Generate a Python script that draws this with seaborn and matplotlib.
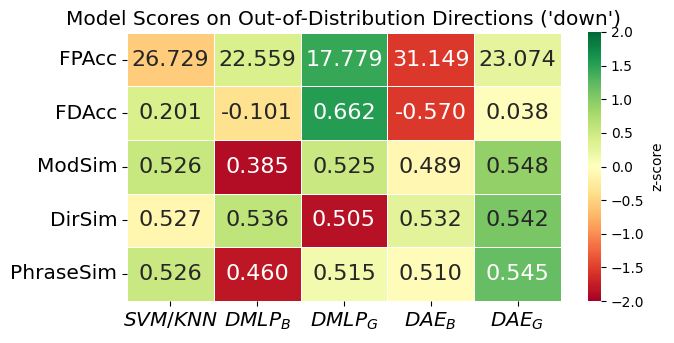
import numpy as np
import pandas as pd
import matplotlib
matplotlib.use("Agg")
import matplotlib.pyplot as plt
import seaborn as sns

# Metrics (rows) and models (columns)
metrics = ["FPAcc", "FDAcc", "ModSim", "DirSim", "PhraseSim"]
models = ["$SVM/KNN$", "$DMLP_B$", "$DMLP_G$", "$DAE_B$", "$DAE_G$"]

fpacc = [26.729, 22.559, 17.779, 31.149, 23.074]
fdacc = [0.201, -0.101, 0.662, -0.570, 0.038]
modsim = [0.526, 0.385, 0.525, 0.489, 0.548]
dirsim = [0.527, 0.536, 0.505, 0.532, 0.542]
phrasesim = [0.526, 0.460, 0.515, 0.510, 0.545]

# FPAcc is an error-like score: lower is better
higher_is_better = [False, True, True, True, True]

scores = pd.DataFrame([fpacc, fdacc, modsim, dirsim, phrasesim],
                      index=metrics, columns=models)

# Row-wise z-scores, sign flipped where lower is better
z = scores.sub(scores.mean(axis=1), axis=0).div(scores.std(axis=1, ddof=0), axis=0)
sign = np.where(higher_is_better, 1.0, -1.0)
z = z.mul(sign, axis=0)

annot = scores.map(lambda v: f"{v:.3f}")

fig = plt.figure(figsize=(6.74, 3.43), dpi=100)
ax = fig.add_axes([0.1884, 0.1235, 0.6439, 0.7805])
cax = fig.add_axes([0.8724, 0.1220, 0.0193, 0.7850])

sns.heatmap(z, annot=annot.values, fmt="", cmap="RdYlGn", vmin=-2, vmax=2,
            linewidths=0.5, linecolor="white", ax=ax, cbar_ax=cax,
            annot_kws={"size": 16},
            cbar_kws={"label": "z-score"})

ax.set_title("Model Scores on Out-of-Distribution Directions ('down')", fontsize=14.5)
ax.tick_params(axis="x", labelsize=14.5, rotation=0)
ax.tick_params(axis="y", labelsize=14.5, rotation=0)
cax.tick_params(labelsize=10)

fig.savefig("out.png", dpi=100)
